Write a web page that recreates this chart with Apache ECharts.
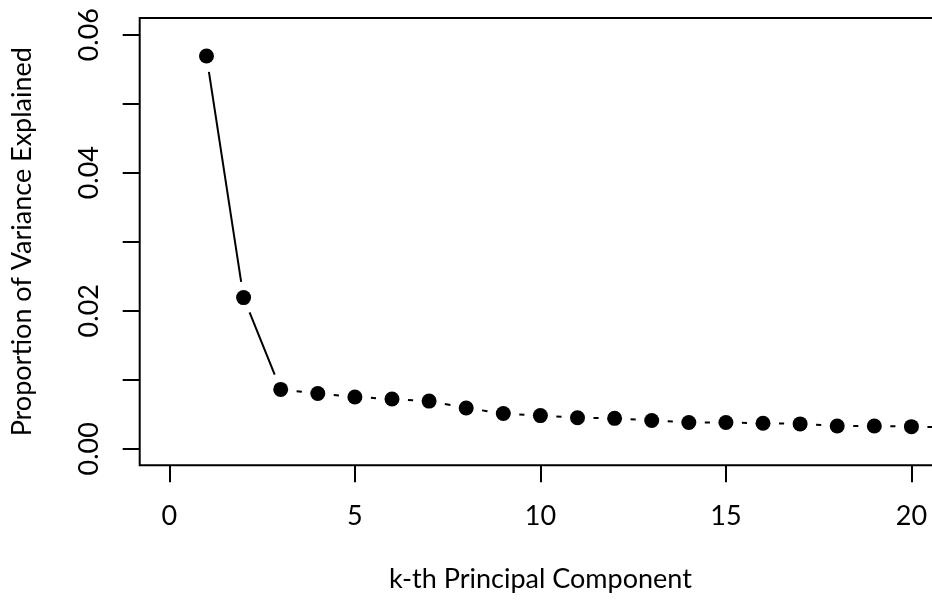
<!DOCTYPE html>
<html>
<head>
<meta charset="utf-8">
<script src="https://cdn.jsdelivr.net/npm/echarts@6/dist/echarts.min.js"></script>
<style>html,body{margin:0;padding:0;background:#fff;}#chart{width:932px;height:601px;}</style>
</head>
<body>
<div id="chart"></div>
<script>
// Principal component index (k)
const components = [1, 2, 3, 4, 5, 6, 7, 8, 9, 10, 11, 12, 13, 14, 15, 16, 17, 18, 19, 20, 21];
// Proportion of variance explained
const pve = [0.0569, 0.0219, 0.0086, 0.0080, 0.0075, 0.0072, 0.0069, 0.0059, 0.0051, 0.0048,
             0.0045, 0.0044, 0.0041, 0.0038, 0.0038, 0.0037, 0.0036, 0.0033, 0.0033, 0.0032, 0.0031];
const xTicks = [0, 5, 10, 15, 20];
const yTicks = [0, 0.01, 0.02, 0.03, 0.04, 0.05, 0.06];
const yTickLabels = [0, 0.02, 0.04, 0.06];
const xTitle = 'k-th Principal Component';
const yTitle = 'Proportion of Variance Explained';

const points = components.map((k, i) => [k, pve[i]]);
const segments = [];
for (let i = 0; i < components.length - 1; i++) {
  segments.push([components[i], pve[i], components[i + 1], pve[i + 1]]);
}

const FONT = 'Lato';
const FS = 27;
const chart = echarts.init(document.getElementById('chart'), null, {renderer: 'canvas'});
chart.setOption({
  animation: false,
  backgroundColor: '#fff',
  grid: {
    left: 139.7, top: 18.1, right: -9.1, bottom: 135.7,
    show: true, borderColor: '#000', borderWidth: 2, backgroundColor: 'transparent',
    containLabel: false, outerBoundsMode: 'none'
  },
  xAxis: {
    type: 'value', min: -0.8, max: 20.8,
    splitLine: {show: false},
    axisLine: {show: false, onZero: false},
    axisTick: {show: true, inside: false, length: 17, lineStyle: {color: '#000', width: 2}, customValues: xTicks},
    axisLabel: {show: true, margin: 37, color: '#000', fontFamily: FONT, fontSize: FS,
                customValues: xTicks, formatter: v => String(v)},
    name: xTitle, nameLocation: 'middle', nameGap: 100,
    nameTextStyle: {color: '#000', fontFamily: FONT, fontSize: FS}
  },
  yAxis: {
    type: 'value', min: -0.0024, max: 0.0624,
    splitLine: {show: false},
    axisLine: {show: false, onZero: false},
    axisTick: {show: true, inside: false, length: 17, lineStyle: {color: '#000', width: 2}, customValues: yTicks},
    axisLabel: {show: true, margin: 37, rotate: 90, color: '#000', fontFamily: FONT, fontSize: FS,
                customValues: yTickLabels, formatter: v => v.toFixed(2)},
    name: yTitle, nameLocation: 'middle', nameGap: 104, nameRotate: 90,
    nameTextStyle: {color: '#000', fontFamily: FONT, fontSize: FS}
  },
  series: [
    {
      type: 'custom',
      clip: true,
      data: segments,
      encode: {x: [0, 2], y: [1, 3]},
      renderItem: function (params, api) {
        const p1 = api.coord([api.value(0), api.value(1)]);
        const p2 = api.coord([api.value(2), api.value(3)]);
        const dx = p2[0] - p1[0], dy = p2[1] - p1[1];
        const len = Math.sqrt(dx * dx + dy * dy);
        const gap = 16;
        if (len <= 2 * gap) return null;
        const ux = dx / len, uy = dy / len;
        return {
          type: 'line',
          shape: {x1: p1[0] + ux * gap, y1: p1[1] + uy * gap, x2: p2[0] - ux * gap, y2: p2[1] - uy * gap},
          style: {stroke: '#000', lineWidth: 2}
        };
      },
      silent: true
    },
    {
      type: 'scatter',
      data: points,
      symbol: 'circle',
      symbolSize: 15,
      itemStyle: {color: '#000', opacity: 1},
      clip: true,
      silent: true
    }
  ]
});
</script>
</body>
</html>
